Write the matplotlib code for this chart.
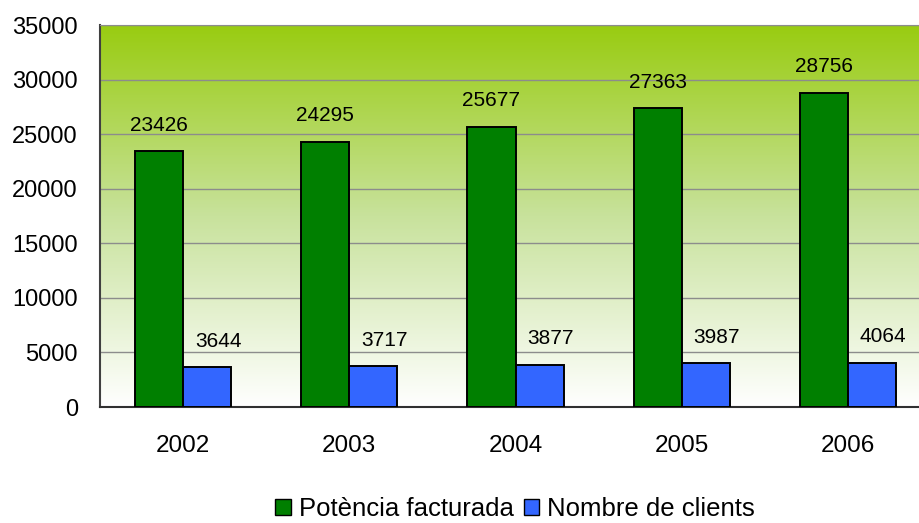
import numpy as np
import matplotlib.pyplot as plt
from matplotlib.colors import LinearSegmentedColormap
from matplotlib.patches import Patch

plt.rcParams['font.family'] = ['Liberation Sans', 'DejaVu Sans']

years = ['2002', '2003', '2004', '2005', '2006']
potencia = [23426, 24295, 25677, 27363, 28756]
clients = [3644, 3717, 3877, 3987, 4064]

fig = plt.figure(figsize=(9.19, 5.23), dpi=100)
ax = fig.add_axes([100 / 919, 1 - 407 / 523, 831 / 919, 382 / 523])

x = np.arange(len(years))
w = 0.29

# gradient background
cmap = LinearSegmentedColormap.from_list('bg', ['#ffffff', '#c8e29c', '#99cc11'])
grad = np.linspace(0, 1, 256).reshape(-1, 1)
ax.imshow(grad, extent=[-0.5, 4.5, 0, 35000], origin='lower', aspect='auto',
          cmap=cmap, zorder=0)

ax.set_xlim(-0.5, 4.5)
ax.set_ylim(0, 35000)
ax.set_yticks(range(0, 35001, 5000))
for yv in range(5000, 35001, 5000):
    ax.axhline(yv, color='#8c8c8c', linewidth=1, zorder=1)

ax.bar(x - w / 2, potencia, w, color='#007f00', edgecolor='black', linewidth=1.4, zorder=3)
ax.bar(x + w / 2, clients, w, color='#3366ff', edgecolor='black', linewidth=1.4, zorder=3)

for i in range(len(years)):
    ax.annotate(str(potencia[i]), (x[i] - w / 2, potencia[i]), xytext=(0, 12),
                textcoords='offset points', ha='center', va='bottom', fontsize=15)
    ax.annotate(str(clients[i]), (x[i] + w / 2 + 0.065, clients[i]), xytext=(0, 12),
                textcoords='offset points', ha='center', va='bottom', fontsize=15)

ax.set_xticks(x)
ax.set_xticklabels(years)
ax.tick_params(axis='x', length=0, pad=20, labelsize=17.5)
ax.tick_params(axis='y', length=0, pad=16, labelsize=17)

for s in ['top', 'right']:
    ax.spines[s].set_color('#8c8c8c')
ax.spines['left'].set_color('#404040')
ax.spines['left'].set_linewidth(1.5)
ax.spines['bottom'].set_color('#303030')
ax.spines['bottom'].set_linewidth(1.5)

handles = [Patch(facecolor='#007f00', edgecolor='black', label='Potència facturada'),
           Patch(facecolor='#3366ff', edgecolor='black', label='Nombre de clients')]
fig.legend(handles=handles, loc='center', bbox_to_anchor=(515 / 919, 1 - 509 / 523),
           ncol=2, frameon=False, fontsize=18.5, handlelength=0.6, handleheight=0.6,
           handletextpad=0.3, columnspacing=0.4, borderpad=0)

fig.savefig('out.png', dpi=100)
